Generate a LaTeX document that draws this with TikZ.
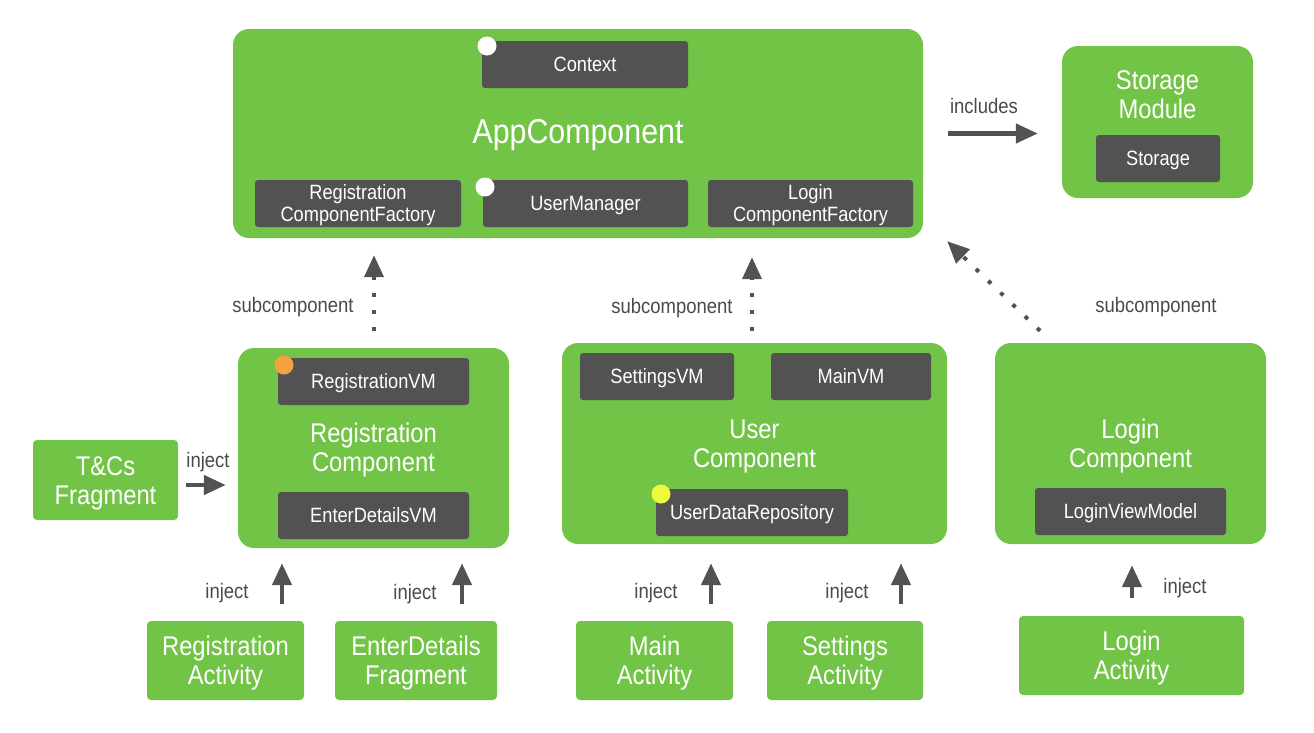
\documentclass[tikz,border=0pt]{standalone}
\usepackage{fontspec}
\setmainfont{Liberation Sans}[FakeStretch=0.88]
\usetikzlibrary{arrows.meta,calc}
\definecolor{gr}{HTML}{72C447}
\definecolor{dk}{HTML}{525252}
\definecolor{tx}{HTML}{4A4A4A}
\definecolor{orng}{HTML}{F5A340}
\definecolor{ylw}{HTML}{EEFA3C}
\tikzset{
 comp/.style={fill=gr, rounded corners=16pt, inner sep=0pt},
 innerbox/.style={fill=dk, rounded corners=3pt, text=white, font=\fontsize{20.7}{22}\selectfont, align=center, inner sep=0pt, minimum height=47pt, text height=14.7pt, text depth=0pt},
 darkbox/.style={fill=dk, rounded corners=3pt, inner sep=0pt, minimum height=47pt},
 boxtext/.style={text=white, font=\fontsize{20.7}{22}\selectfont, align=center, inner sep=0pt},
 leaf/.style={fill=gr, rounded corners=4pt, inner sep=0pt, minimum height=79pt},
 ctitle/.style={text=white, font=\fontsize{27}{29}\selectfont, align=center, inner sep=0pt},
 lbl/.style={text=tx, font=\fontsize{21}{24}\selectfont, inner sep=0pt, yshift=-2pt},
 dotc/.style={circle, inner sep=0pt, minimum size=19pt},
 arr/.style={draw=dk, line width=4.5pt, -{Triangle[length=22pt,width=19pt]}},
 darr/.style={draw=dk, line width=4pt, dash pattern=on 4pt off 13pt, -{Triangle[length=22pt,width=19pt]}},
}
\begin{document}
\begin{tikzpicture}[x=1pt,y=1pt]
\useasboundingbox (0,0) rectangle (1314,-732);
% AppComponent
\node[comp, minimum width=690pt, minimum height=209pt] (app) at (578,-133.5) {};
\node[innerbox, minimum width=206pt] (ctx) at (585,-64.5) {Context};
\node[darkbox, minimum width=206pt] (rcf) at (358,-203.5) {};
\node[boxtext] (rcftxt) at ($(rcf.center)+(0,-1.5)$) {Registration\\ComponentFactory};
\node[innerbox, minimum width=205pt] (um) at (585.5,-203.5) {UserManager};
\node[darkbox, minimum width=205pt] (lcf) at (810.5,-203.5) {};
\node[boxtext] (lcftxt) at ($(lcf.center)+(0,-1.5)$) {Login\\ComponentFactory};
\node[dotc, fill=white] (d1) at (487,-46) {};
\node[dotc, fill=white] (d2) at (485,-187) {};
\node[ctitle, font=\fontsize{34.5}{36}\selectfont] (apptitle) at (578,-135) {AppComponent};
% Storage Module
\node[comp, minimum width=191pt, minimum height=152pt] (stor) at (1157.5,-122) {};
\node[ctitle] (stortitle) at (1157.5,-95) {Storage\\Module};
\node[innerbox, minimum width=124pt] (storage) at (1158,-158.5) {Storage};
\node[lbl] (incl) at (984,-104) {includes};
\draw[arr] ($(app.east)+(25,0)$) -- ($(stor.west)+(-24,-11.5)$);
% Registration Component
\node[comp, minimum width=271pt, minimum height=200pt] (regc) at (373.5,-448) {};
\node[innerbox, minimum width=191pt] (rvm) at (373.5,-381.5) {RegistrationVM};
\node[innerbox, minimum width=191pt] (edvm) at (373.5,-515.5) {EnterDetailsVM};
\node[ctitle] (regtitle) at (373.5,-450.5) {Registration\\Component};
\node[dotc, fill=orng] (d3) at (284,-365) {};
\node[leaf, minimum width=145pt, minimum height=80pt] (tcs) at (105.5,-480) {};
\node[ctitle] (tcstxt) at ($(tcs.center)+(0,-3)$) {T\&Cs\\Fragment};
\node[lbl] (inj0) at (208,-460) {inject};
\draw[arr] ($(tcs.east)+(8,-5)$) -- ($(regc.west)+(-12,-37)$);
\node[lbl] (sub1) at (293,-305) {subcomponent};
\draw[darr] ($(regc.north)+(0.5,17)$) -- ($(regc.north |- app.south)+(0.5,-17)$);
% Registration leaves
\node[leaf, minimum width=157pt] (ra) at (225.5,-660.5) {};
\node[ctitle] (ratxt) at ($(ra.center)+(0,-3)$) {Registration\\Activity};
\node[leaf, minimum width=162pt] (edf) at (416,-660.5) {};
\node[ctitle] (edftxt) at ($(edf.center)+(0,-3)$) {EnterDetails\\Fragment};
\node[lbl] (inj1) at (227,-591) {inject};
\node[lbl] (inj2) at (415,-592) {inject};
\draw[arr] ($(ra.north)+(56.5,17)$) -- ($(regc.south)+(-91.5,-15)$);
\draw[arr] ($(edf.north)+(46,17)$) -- ($(regc.south)+(88.5,-15)$);
% User Component
\node[comp, minimum width=385pt, minimum height=201pt] (uc) at (754.5,-443.5) {};
\node[innerbox, minimum width=154pt] (svm) at (657,-376.5) {SettingsVM};
\node[innerbox, minimum width=160pt] (mvm) at (851,-376.5) {MainVM};
\node[ctitle] (uctitle) at (754.5,-446.5) {User\\Component};
\node[innerbox, minimum width=192pt] (udr) at (752,-512.5) {UserDataRepository};
\node[dotc, fill=ylw] (d4) at (661,-494) {};
\node[lbl] (sub2) at (672,-306) {subcomponent};
\draw[darr] ($(uc.north)+(-2.5,12)$) -- ($(uc.north |- app.south)+(-2.5,-19)$);
\node[leaf, minimum width=157pt] (ma) at (654.5,-660.5) {};
\node[ctitle] (matxt) at ($(ma.center)+(0,-3)$) {Main\\Activity};
\node[leaf, minimum width=156pt] (sa) at (845,-660.5) {};
\node[ctitle] (satxt) at ($(sa.center)+(0,-3)$) {Settings\\Activity};
\node[lbl] (inj3) at (656,-591) {inject};
\node[lbl] (inj4) at (847,-591) {inject};
\draw[arr] ($(ma.north)+(56.5,17)$) -- ($(uc.south)+(-43.5,-19)$);
\draw[arr] ($(sa.north)+(56,17)$) -- ($(uc.south)+(146.5,-19)$);
% Login Component
\node[comp, minimum width=271pt, minimum height=201pt] (lc) at (1130.5,-443.5) {};
\node[ctitle] (lctitle) at (1130.5,-446.5) {Login\\Component};
\node[innerbox, minimum width=191pt] (lvm) at (1130.5,-511.5) {LoginViewModel};
\node[leaf, minimum width=225pt] (la) at (1131.5,-655.5) {};
\node[ctitle] (latxt) at ($(la.center)+(0,-3)$) {Login\\Activity};
\node[lbl] (inj5) at (1185,-586) {inject};
\draw[arr] ($(la.north)+(0.5,18)$) -- ($(lc.south)+(1.5,-21)$);
\node[lbl] (sub3) at (1156,-305) {subcomponent};
\draw[darr] ($(lc.north)+(-90.5,12)$) -- ($(app.south east)+(24,-3)$);
\end{tikzpicture}
\end{document}
